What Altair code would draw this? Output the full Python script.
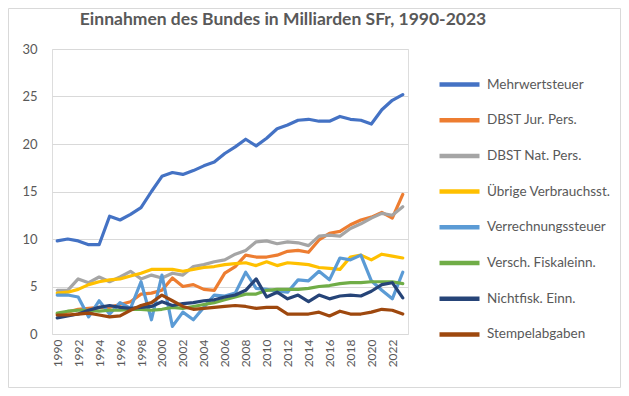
import altair as alt
import pandas as pd

years = list(range(1990, 2024))

series_names = [
    "Mehrwertsteuer",
    "DBST Jur. Pers.",
    "DBST Nat. Pers.",
    "Übrige Verbrauchsst.",
    "Verrechnungssteuer",
    "Versch. Fiskaleinn.",
    "Nichtfisk. Einn.",
    "Stempelabgaben",
]
series_colors = ["#4472C4", "#ED7D31", "#A5A5A5", "#FFC000",
                 "#5B9BD5", "#70AD47", "#264478", "#9E480E"]

mwst = [9.8, 10.0, 9.8, 9.4, 9.4, 12.4, 12.0, 12.6, 13.3, 15.0,
        16.6, 17.0, 16.8, 17.2, 17.7, 18.1, 19.0, 19.7, 20.5, 19.8,
        20.6, 21.6, 22.0, 22.5, 22.6, 22.4, 22.4, 22.9, 22.6, 22.5,
        22.1, 23.6, 24.6, 25.2]
dbst_jur = [2.1, 2.3, 2.6, 2.7, 2.8, 2.8, 3.1, 3.4, 4.2, 4.3,
            4.6, 5.9, 5.0, 5.2, 4.7, 4.6, 6.4, 7.1, 8.3, 8.1,
            8.1, 8.3, 8.7, 8.8, 8.6, 9.9, 10.6, 10.8, 11.5, 12.0,
            12.3, 12.8, 12.2, 14.7]
dbst_nat = [4.6, 4.6, 5.8, 5.4, 6.0, 5.5, 6.0, 6.6, 5.8, 6.2,
            5.9, 6.4, 6.2, 7.1, 7.3, 7.6, 7.8, 8.4, 8.8, 9.7,
            9.8, 9.5, 9.7, 9.6, 9.3, 10.3, 10.4, 10.3, 11.1, 11.6,
            12.2, 12.7, 12.5, 13.4]
uebrige = [4.3, 4.4, 4.7, 5.2, 5.5, 5.7, 5.8, 6.1, 6.4, 6.8,
           6.8, 6.8, 6.6, 6.8, 7.0, 7.1, 7.3, 7.4, 7.5, 7.2,
           7.6, 7.2, 7.5, 7.4, 7.3, 7.0, 6.9, 6.8, 8.1, 8.3,
           7.8, 8.4, 8.2, 8.0]
verrechnung = [4.1, 4.1, 3.9, 1.8, 3.5, 2.1, 3.3, 2.7, 5.5, 1.5,
               6.2, 0.8, 2.3, 1.5, 2.8, 4.1, 4.0, 4.3, 6.5, 4.8,
               4.7, 4.5, 4.4, 5.7, 5.6, 6.6, 5.7, 8.0, 7.8, 8.3,
               5.6, 4.6, 3.7, 6.5]
versch = [2.2, 2.4, 2.5, 2.5, 2.4, 2.5, 2.5, 2.6, 2.6, 2.5,
          2.6, 2.8, 2.7, 2.9, 3.1, 3.3, 3.6, 3.9, 4.2, 4.2,
          4.6, 4.7, 4.7, 4.7, 4.8, 5.0, 5.1, 5.3, 5.4, 5.4,
          5.5, 5.5, 5.5, 5.3]
nichtfisk = [1.7, 1.9, 2.1, 2.5, 2.8, 3.0, 2.8, 2.7, 2.8, 2.9,
             3.4, 3.0, 3.2, 3.3, 3.5, 3.6, 3.9, 4.1, 4.6, 5.8,
             3.9, 4.4, 3.7, 4.1, 3.4, 4.1, 3.7, 4.0, 4.1, 4.0,
             4.5, 5.2, 5.4, 3.8]
stempel = [2.0, 2.0, 2.1, 2.2, 2.0, 1.8, 1.9, 2.5, 3.0, 3.3,
           4.1, 3.5, 2.9, 2.6, 2.7, 2.8, 2.9, 3.0, 2.9, 2.7,
           2.8, 2.8, 2.1, 2.1, 2.1, 2.3, 1.9, 2.4, 2.1, 2.1,
           2.3, 2.6, 2.5, 2.1]

all_values = [mwst, dbst_jur, dbst_nat, uebrige, verrechnung, versch, nichtfisk, stempel]

rows = []
for idx, (name, vals) in enumerate(zip(series_names, all_values)):
    for y, v in zip(years, vals):
        rows.append({"Jahr": y, "Wert": v, "Serie": name, "ord": idx})
df = pd.DataFrame(rows)

FONT = "Lato"
GREY = "#595959"

lines = alt.Chart(df).mark_line(strokeWidth=3.2, strokeJoin="round", strokeCap="round").encode(
    x=alt.X("Jahr:Q",
            scale=alt.Scale(domain=[1989.5, 2023.5], nice=False, zero=False),
            axis=alt.Axis(values=list(range(1990, 2024, 2)), format="d", labelAngle=-90,
                          grid=False, ticks=False, domain=False, title=None,
                          labelFont=FONT, labelFontSize=12, labelColor=GREY,
                          labelPadding=5, labelFlush=False, labelOverlap=False)),
    y=alt.Y("Wert:Q",
            scale=alt.Scale(domain=[0, 30], nice=False),
            axis=alt.Axis(values=[0, 5, 10, 15, 20, 25, 30], grid=True, gridColor="#d9d9d9",
                          gridWidth=1, ticks=False, domain=False, title=None,
                          labelFont=FONT, labelFontSize=13, labelColor=GREY,
                          labelPadding=15)),
    color=alt.Color("Serie:N",
                    scale=alt.Scale(domain=series_names, range=series_colors),
                    legend=alt.Legend(title=None, orient="none", legendX=395, legendY=23,
                                      symbolType="M-2,0H2", symbolSize=400,
                                      symbolStrokeWidth=4.5, symbolFillColor="transparent",
                                      labelFont=FONT, labelFontSize=13.5, labelColor=GREY,
                                      labelOffset=15, rowPadding=13.7, padding=0,
                                      labelLimit=200)),
    order=alt.Order("ord:Q"),
    detail="Serie:N",
)

border = alt.Chart(pd.DataFrame({"a": [0]})).mark_rect(
    fill=None, stroke="#d9d9d9", strokeWidth=1
).encode(
    x=alt.value(-43.5), x2=alt.value(568.5), y=alt.value(-40.5), y2=alt.value(338.5)
)

chart = alt.layer(border, lines).properties(
    width=356,
    height=285,
    autosize=alt.AutoSizeParams(type="none"),
    padding={"left": 44, "top": 41, "right": 213, "bottom": 54},
    title=alt.TitleParams("Einnahmen des Bundes in Milliarden SFr, 1990-2023",
                          font=FONT, fontSize=17.5, fontWeight="bold", color=GREY,
                          anchor="middle", frame="group", dx=53, offset=-20),
).configure_view(stroke=None).configure(background="white")

chart.save("out.html", embed_options={"renderer": "svg", "actions": False})
